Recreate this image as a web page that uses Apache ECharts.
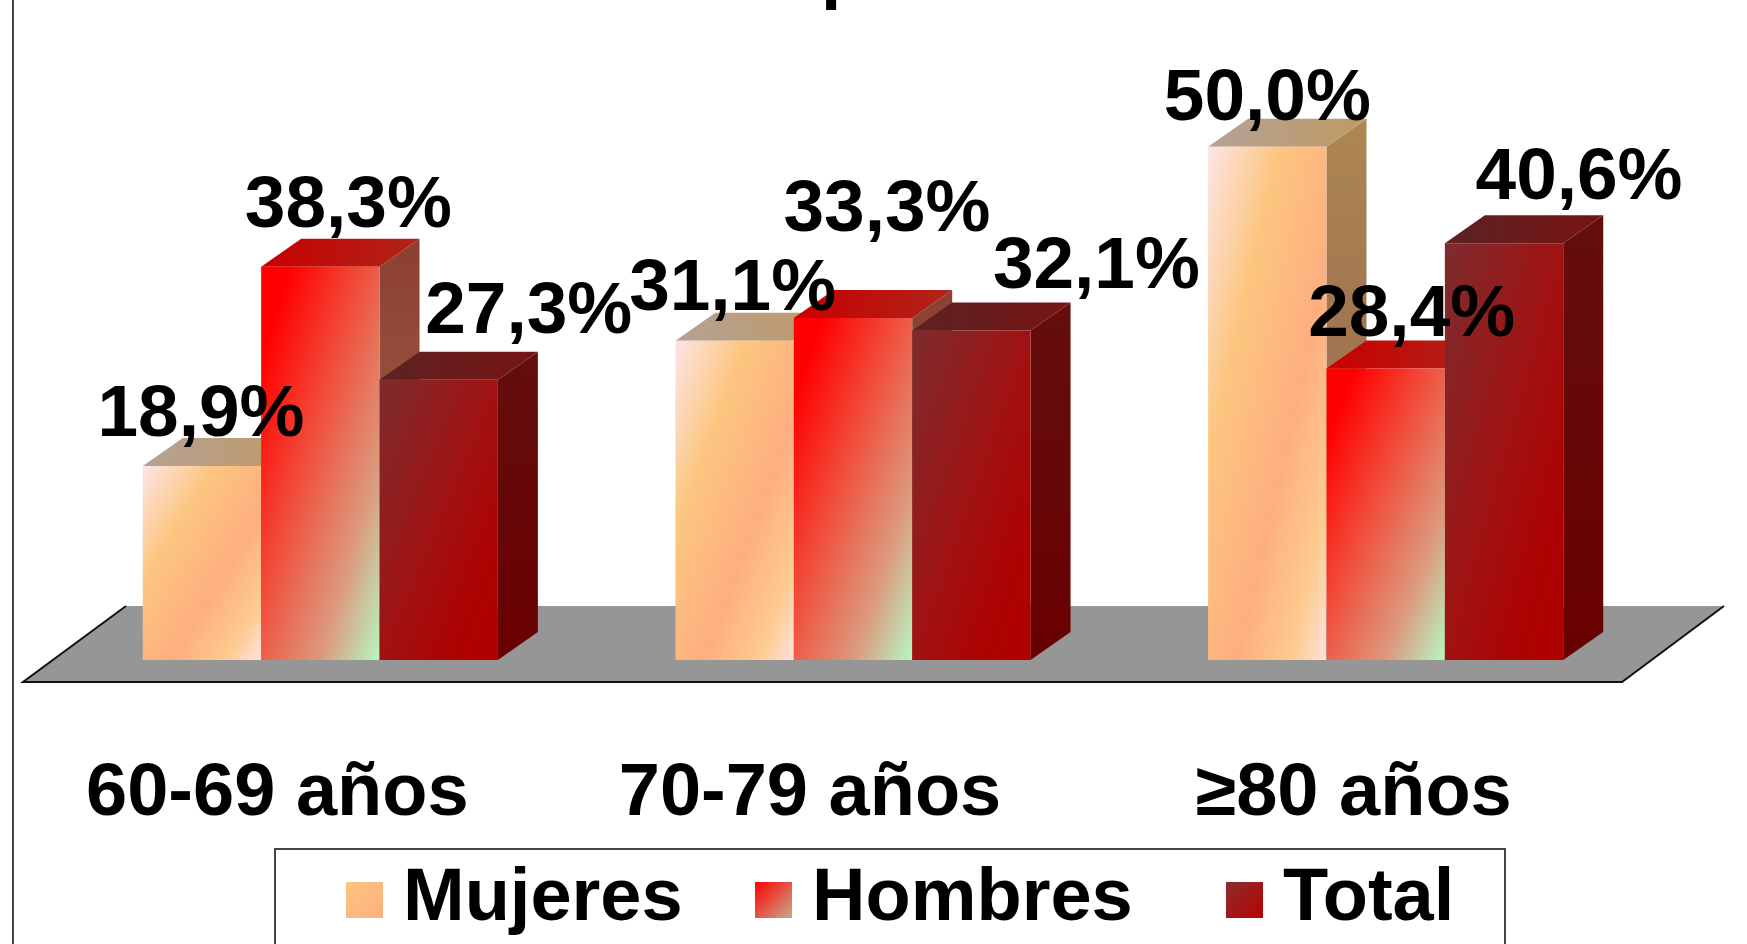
<!DOCTYPE html>
<html>
<head>
<meta charset="utf-8">
<title>Mujeres, Hombres, Total</title>
<style>
  html, body { margin: 0; padding: 0; background: #fff; }
  #chart { width: 1747px; height: 944px; }
</style>
<script src="https://cdn.jsdelivr.net/npm/echarts@6/dist/echarts.min.js"></script>
</head>
<body>
<div id="chart"></div>
<script>
const categories = ['60-69 años', '70-79 años', '≥80 años'];
const mujeres = [18.9, 31.1, 50.0];
const hombres = [38.3, 33.3, 28.4];
const total = [27.3, 32.1, 40.6];

// the labels sit off their bars in the original, so each one gets its own shift
const labelShiftX = [[-1, -2, 0], [28, 34, 26], [90, 125, 75]];
const labelShiftY = [[-50, -51, -47], [-60, -107, -53], [-67, -63, -64]];

const FONT = '"Liberation Sans", Arial, sans-serif';
const FONT_SIZE = 73;
const AXIS_FONT_SIZE = 74;
const BAR_FRAC = 2 / 9;
const DEPTH_X = 40;
const DEPTH_Y = 28;

function grad(stops, x2, y2) {
  return {
    type: 'linear', x: 0, y: 0, x2: x2 === undefined ? 1 : x2, y2: y2 === undefined ? 1 : y2,
    colorStops: stops.map(s => ({ offset: s[0], color: s[1] }))
  };
}

const frontStops = [
  [[0, '#fde4e6'], [0.3, '#fcc67f'], [0.62, '#feae80'], [0.85, '#fdcb90'], [1, '#ffe2de']],
  [[0, '#ff0000'], [0.12, '#ff0000'], [0.45, '#f0523f'], [0.75, '#dc9a7e'], [1, '#b6f7c2']],
  [[0, '#7c2c2e'], [0.5, '#a11212'], [0.8, '#ae0202'], [1, '#b00000']]
];

const faces = [
  {
    top: grad([[0, '#b5a196'], [1, '#bf9a63']], 1, 0),
    side: grad([[0, '#ad8752'], [0.4, '#a1754f'], [1, '#a87d50']], 0, 1),
    legend: grad([[0, '#fcc67f'], [1, '#feae80']])
  },
  {
    top: grad([[0, '#c80000'], [1, '#b0241a']], 1, 0),
    side: grad([[0, '#8b3f30'], [1, '#ad6d55']], 0, 1),
    legend: grad([[0, '#ff0000'], [1, '#c8a98c']])
  },
  {
    top: grad([[0, '#5c2222'], [1, '#781414']], 1, 0),
    side: grad([[0, '#640e0e'], [1, '#6a0000']], 0, 1),
    legend: grad([[0, '#8a3030'], [1, '#b80000']])
  }
];

// bands run parallel to the box's other diagonal, so the end point depends on the bar's shape
function frontGrad(idx, w, h) {
  const d = w * w + h * h;
  return grad(frontStops[idx], 2 * h * h / d, 2 * w * w / d);
}

function renderBar(idx) {
  return function (params, api) {
    const cat = api.value(0);
    const base = api.coord([cat, 0]);
    const top = api.coord([cat, api.value(1)]);
    const w = api.size([1, 0])[0] * BAR_FRAC;
    const h = base[1] - top[1];
    const x = base[0] + (idx - 1.5) * w;
    const f = faces[idx];
    return {
      type: 'group',
      children: [
        {
          type: 'polygon',
          shape: { points: [[x + w, base[1]], [x + w + DEPTH_X, base[1] - DEPTH_Y], [x + w + DEPTH_X, top[1] - DEPTH_Y], [x + w, top[1]]] },
          style: { fill: f.side }
        },
        {
          type: 'polygon',
          shape: { points: [[x, top[1]], [x + DEPTH_X, top[1] - DEPTH_Y], [x + w + DEPTH_X, top[1] - DEPTH_Y], [x + w, top[1]]] },
          style: { fill: f.top }
        },
        {
          type: 'rect',
          shape: { x: x, y: top[1], width: w, height: h },
          style: { fill: frontGrad(idx, w, h) }
        }
      ]
    };
  };
}

function renderLabel(params, api) {
  const cat = api.value(0);
  const idx = api.value(2);
  const base = api.coord([cat, 0]);
  const top = api.coord([cat, api.value(1)]);
  const w = api.size([1, 0])[0] * BAR_FRAC;
  return {
    type: 'text',
    x: base[0] + (idx - 1) * w + labelShiftX[idx][cat],
    y: top[1] + labelShiftY[idx][cat],
    style: {
      text: api.value(1).toFixed(1).replace('.', ',') + '%',
      font: 'bold ' + FONT_SIZE + 'px ' + FONT,
      fill: '#000',
      align: 'center',
      verticalAlign: 'middle'
    }
  };
}

function renderFloor(params, api) {
  const c = params.coordSys;
  const bottom = c.y + c.height;
  const left = c.x - 31, right = c.x + c.width - 30;
  const front = bottom + 22, back = bottom - 54;
  return {
    type: 'group',
    children: [
      {
        type: 'polygon',
        shape: { points: [[left, front], [left + 103, back], [right + 102, back], [right, front]] },
        style: { fill: '#969696' }
      },
      {
        type: 'polyline',
        shape: { points: [[left + 103, back], [left, front], [right, front], [right + 102, back]] },
        style: { stroke: '#111', lineWidth: 2, fill: 'none' }
      }
    ]
  };
}

function barSeries(name, values, idx) {
  return {
    name: name,
    type: 'custom',
    z: 3,
    renderItem: renderBar(idx),
    encode: { x: 0, y: 1 },
    itemStyle: { color: faces[idx].legend },
    data: values.map((v, i) => [i, v])
  };
}

function legendFor(name, left) {
  return {
    data: [name],
    left: left,
    top: 863,
    padding: 0,
    icon: 'rect',
    itemWidth: 37,
    itemHeight: 36,
    itemGap: 0,
    selectedMode: false,
    textStyle: { fontFamily: FONT, fontWeight: 'bold', fontSize: AXIS_FONT_SIZE, color: '#000', padding: [0, 0, 0, 15] }
  };
}

const labelData = [];
[mujeres, hombres, total].forEach((vals, idx) => {
  vals.forEach((v, i) => labelData.push([i, v, idx]));
});

const chart = echarts.init(document.getElementById('chart'));
chart.setOption({
  animation: false,
  backgroundColor: '#fff',
  legend: [legendFor('Mujeres', 346), legendFor('Hombres', 755), legendFor('Total', 1226)],
  grid: { left: 54, width: 1598, top: 44, height: 616 },
  xAxis: {
    type: 'category',
    data: categories,
    axisLine: { show: false },
    axisTick: { show: false },
    axisLabel: {
      margin: 98,
      interval: 0,
      formatter: function (v) {
        return v.charAt(0) === '≥' ? '{c|' + v + '}' : '{a|' + v + '}';
      },
      rich: {
        a: { fontFamily: FONT, fontWeight: 'bold', fontSize: AXIS_FONT_SIZE, color: '#000', padding: [0, 86, 0, 0] },
        c: { fontFamily: FONT, fontWeight: 'bold', fontSize: AXIS_FONT_SIZE, color: '#000', padding: [0, 64, 0, 0] }
      }
    }
  },
  yAxis: { type: 'value', min: 0, max: 60, show: false },
  graphic: [
    { type: 'line', shape: { x1: 13, y1: 0, x2: 13, y2: 944 }, style: { stroke: '#444', lineWidth: 2 }, z: 1 },
    { type: 'rect', shape: { x: 275, y: 849, width: 1230, height: 120 }, style: { fill: '#fff', stroke: '#444', lineWidth: 2 }, z: 1 },
    // only the tail of the title's "p" shows, the rest is cut off by the top edge
    { type: 'text', x: 821, y: -62, z: 1, style: { text: 'p', font: 'bold ' + FONT_SIZE + 'px ' + FONT, fill: '#000', verticalAlign: 'top' } }
  ],
  series: [
    {
      name: 'floor',
      type: 'custom',
      z: 1,
      silent: true,
      renderItem: renderFloor,
      encode: { x: 0, y: 1 },
      data: [[0, 0]]
    },
    barSeries('Mujeres', mujeres, 0),
    barSeries('Hombres', hombres, 1),
    barSeries('Total', total, 2),
    {
      name: 'labels',
      type: 'custom',
      z: 6,
      silent: true,
      renderItem: renderLabel,
      encode: { x: 0, y: 1 },
      data: labelData
    }
  ]
});
</script>
</body>
</html>
